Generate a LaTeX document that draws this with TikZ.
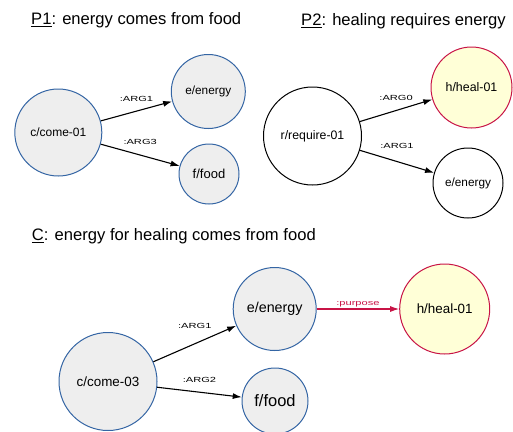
\documentclass[tikz,border=0pt]{standalone}
\usepackage{fontspec}
\usepackage{graphicx}
\setmainfont{Liberation Sans}
\usetikzlibrary{arrows.meta,positioning}

\definecolor{amrblue}{RGB}{52,101,164}
\definecolor{amrgray}{RGB}{238,238,238}
\definecolor{amrred}{RGB}{200,20,70}
\definecolor{amryellow}{RGB}{255,255,215}

\tikzset{
  concept/.style={circle,draw=amrblue,fill=amrgray,line width=1pt,inner sep=0pt},
  plainconcept/.style={circle,draw=black,fill=white,line width=1pt,inner sep=0pt},
  focus/.style={circle,draw=amrred,fill=amryellow,line width=1pt,inner sep=0pt},
  title/.style={anchor=base west,inner sep=0pt,font=\fontsize{16.6}{19}\selectfont},
  role/.style={inner sep=0pt,font=\fontsize{7.4}{8}\selectfont}
}
\newcommand{\fs}[1]{\fontsize{#1}{#1}\selectfont}
\newcommand{\rolename}[1]{\scalebox{1.5}[1]{#1}}

\begin{document}
\begin{tikzpicture}[x=1pt,y=-1pt,on grid,>={Latex[length=9pt,width=6pt]}]
    \useasboundingbox (0,0) rectangle (513,431);

    % P1
    \node[title] (t1) at (31,24.5) {\underline{P1}: energy comes from food};
    \node[concept,minimum size=87pt,font=\fs{12}]   (c1) at (58.3,132.5)                      {c/come-01};
    \node[concept,minimum size=74pt,font=\fs{11.8}] (e1) [above right=41pt and 150pt of c1]   {e/energy};
    \node[concept,minimum size=60pt,font=\fs{13}]   (f1) [below right=41.5pt and 150.7pt of c1] {f/food};

    \path[->,line width=1.1pt]
          (c1) edge node[role,above=8.8pt] {\rolename{:ARG1}} (e1)
          (c1) edge node[role,above=9.5pt] {\rolename{:ARG3}} (f1);

    % P2
    \node[title] (t2) at (301,25.5) {\underline{P2}: healing requires energy};
    \node[plainconcept,minimum size=98pt,font=\fs{12.3}] (r2) at (312.5,136)                        {r/require-01};
    \node[focus,minimum size=81pt,font=\fs{12.4}]        (h2) [above right=48.5pt and 159pt of r2] {h/heal-01};
    \node[plainconcept,minimum size=70pt,font=\fs{11.8}] (e2) [below right=47pt and 155.5pt of r2]  {e/energy};

    \path[->,line width=1.1pt]
          (r2) edge node[role,above=9.7pt]  {\rolename{:ARG0}} (h2)
          (r2) edge node[role,above=12.3pt] {\rolename{:ARG1}} (e2);

    % C
    \node[title] (t3) at (31.7,240.5) {\underline{C}: energy for healing comes from food};
    \node[concept,minimum size=98pt,font=\fs{13.4}] (c3) at (108,381.5)                          {c/come-03};
    \node[concept,minimum size=83pt,font=\fs{14.3}] (e3) [above right=72.5pt and 166.7pt of c3] {e/energy};
    \node[concept,minimum size=66pt,font=\fs{16.5}] (f3) [below right=19.5pt and 167pt of c3]   {f/food};
    \node[focus,minimum size=90pt,font=\fs{13.4}]   (h3) [right=170pt of e3]                     {h/heal-01};

    \path[->,line width=1.1pt]
          (c3) edge node[role,above=14.5pt] {\rolename{:ARG1}} (e3)
          (c3) edge node[role,above=9.5pt]  {\rolename{:ARG2}} (f3)
          (e3) edge[draw=amrred] node[role,above=1.5pt,text=amrred] {\rolename{:purpose}} (h3);
\end{tikzpicture}
\end{document}
